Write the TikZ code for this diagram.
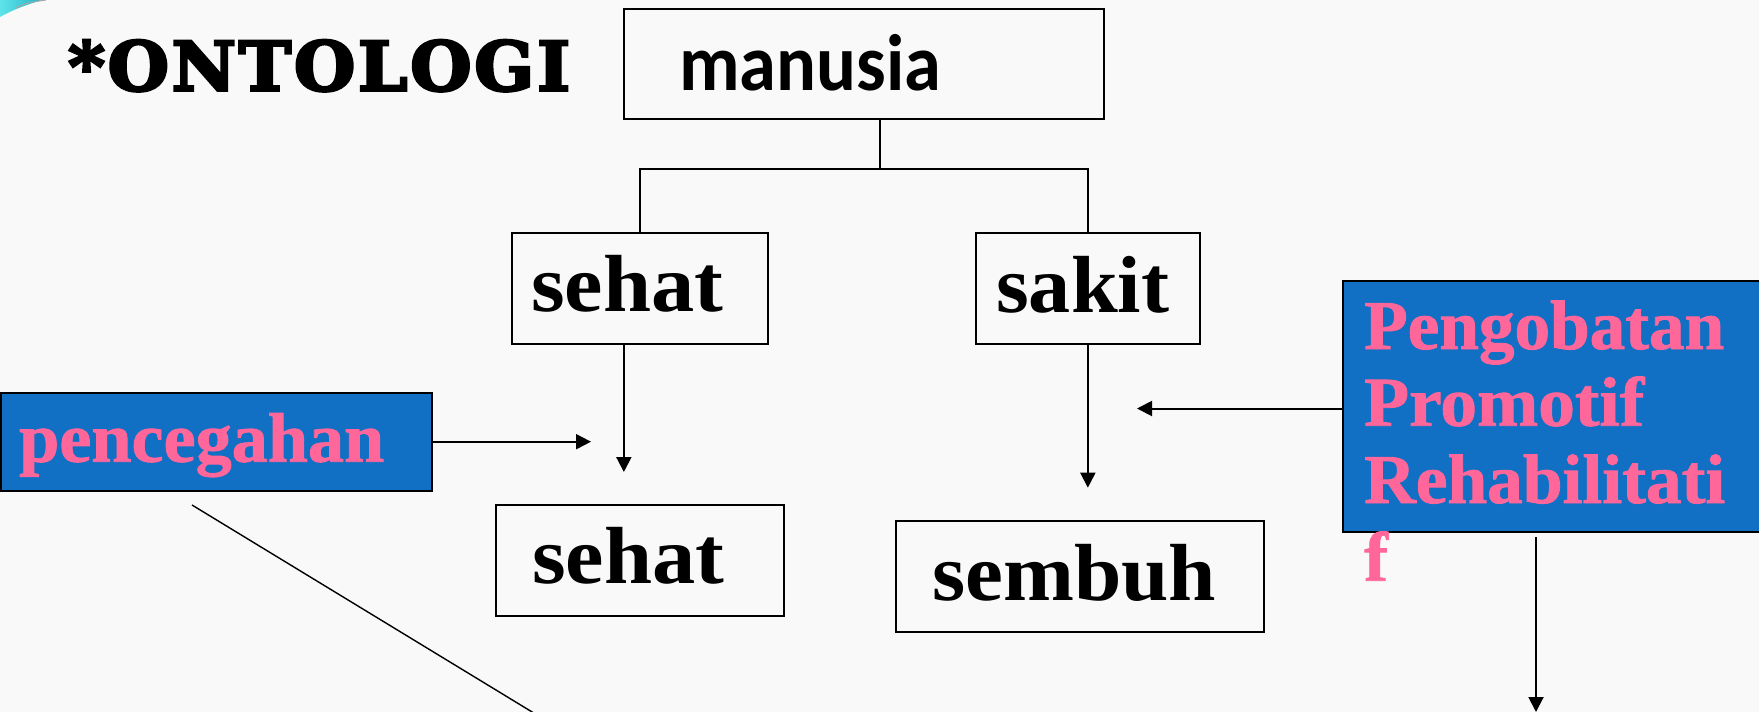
\documentclass[tikz,border=0pt]{standalone}
\usepackage{fontspec}
\usepackage{graphicx}
\usetikzlibrary{arrows.meta}
\setmainfont{Liberation Serif}
\newfontfamily\slabfont{DejaVu Serif}[UprightFont={* Bold},FakeBold=4,LetterSpace=4]
\newfontfamily\pinkserif{Liberation Serif}[UprightFont={* Bold},FakeBold=1.2]
\newfontfamily\calfont{Carlito}
\definecolor{boxblue}{HTML}{1170C4}
\definecolor{pinktext}{HTML}{FF6699}
\definecolor{paper}{HTML}{F9F9F9}
\definecolor{swooshA}{HTML}{5FE3EA}
\definecolor{swooshB}{HTML}{23B5C4}
% stretch a word horizontally to a given width, keeping its height
\newcommand\fitw[2]{\resizebox{#1}{\height}{#2}}

\begin{document}
\begin{tikzpicture}[x=1pt,y=-1pt,
  frame/.style={draw=black,line width=2pt,inner sep=0pt,outer sep=0pt,anchor=north west},
  bluebox/.style={frame,fill=boxblue},
  word/.style={inner sep=0pt,anchor=base west},
  bigword/.style={word,font=\bfseries\fontsize{81}{81}\selectfont},
  pinkword/.style={word,text=pinktext,font=\pinkserif\fontsize{70}{77}\selectfont},
  link/.style={line width=2pt,draw=black},
  arrowlink/.style={link,-{Triangle[length=15pt,width=15pt]}},
]
\useasboundingbox (0,0) rectangle (1759,712);
\begin{scope}
\clip (0,0) rectangle (1759,712);
\fill[paper] (0,0) rectangle (1759,712);

% corner ornament
\shade[left color=swooshA,right color=swooshB] (0,0) -- (42,0) .. controls (26,5) and (12,10) .. (0,17) -- cycle;
\draw[gray!70,line width=1pt] (16,8) .. controls (26,3) .. (46,0);

% title
\node[word] (title) at (68,90.5) {\slabfont\fontsize{68}{68}\selectfont\fitw{502pt}{*ONTOLOGI}};

% boxes
\node[frame,minimum width=480pt,minimum height=110pt] (manusia) at (624,9) {};
\node[frame,minimum width=256.3pt,minimum height=111.3pt] (sehatA) at (511.7,232.7) {};
\node[frame,minimum width=224.3pt,minimum height=111.3pt] (sakit) at (975.7,232.7) {};
\node[frame,minimum width=288pt,minimum height=111pt] (sehatB) at (496,505) {};
\node[frame,minimum width=368.3pt,minimum height=111.3pt] (sembuh) at (895.7,520.7) {};
\node[bluebox,minimum width=431pt,minimum height=98pt] (pencegahan) at (1,392.7) {};
\node[bluebox,minimum width=440pt,minimum height=251.3pt] (pengobatan) at (1343,280.7) {};

% words
\node[word,font=\calfont\bfseries\fontsize{80}{80}\selectfont] (manusiaText) at (679,90) {\fitw{262pt}{manusia}};
\node[bigword] (sehatAText) at (531,311.7) {\fitw{192pt}{sehat}};
\node[bigword] (sakitText) at (996,312) {\fitw{173pt}{sakit}};
\node[bigword] (sehatBText) at (532,583) {\fitw{192pt}{sehat}};
\node[bigword] (sembuhText) at (932,600) {\fitw{284pt}{sembuh}};
\node[pinkword] (pencegahanText) at (19,461.7) {\fitw{365pt}{pencegahan}};
\node[pinkword] (pengobatanL1) at (1364,349) {\fitw{360pt}{Pengobatan}};
\node[pinkword] (pengobatanL2) at (1364,425.7) {\fitw{280pt}{Promotif}};
\node[pinkword] (pengobatanL3) at (1364,503) {\fitw{361pt}{Rehabilitati}};
\node[pinkword] (pengobatanL4) at (1364,580.7) {\scalebox{1.02}[1]{f}};

% tree lines
\coordinate (junction) at (880,169);
\draw[link] (manusia.south -| junction) -- (junction);
\draw[link] (sehatA.north) |- (junction) -| (sakit.north);

% arrows
\draw[arrowlink,shorten >=33pt] ([xshift=-16pt]sehatA.south) -- ([xshift=-16pt]sehatA.south |- sehatB.north);
\draw[arrowlink,shorten >=33pt] (sakit.south) -- (sakit.south |- sembuh.north);

\coordinate (preventTip) at (591,441);
\draw[arrowlink] (pencegahan.east) -- (preventTip |- pencegahan.east);

\coordinate (treatTip) at (1137,408.5);
\draw[arrowlink] (pengobatan.west |- treatTip) -- (treatTip);

\coordinate (outTip) at (1536,712);
\draw[arrowlink,shorten <=5pt] (outTip |- pengobatan.south) -- (outTip);

% slanted line
\coordinate (diagStart) at (192,505);
\coordinate (diagEnd) at (565,732);
\draw[line width=1.4pt] (diagStart) -- (diagEnd);
\end{scope}
\end{tikzpicture}
\end{document}
